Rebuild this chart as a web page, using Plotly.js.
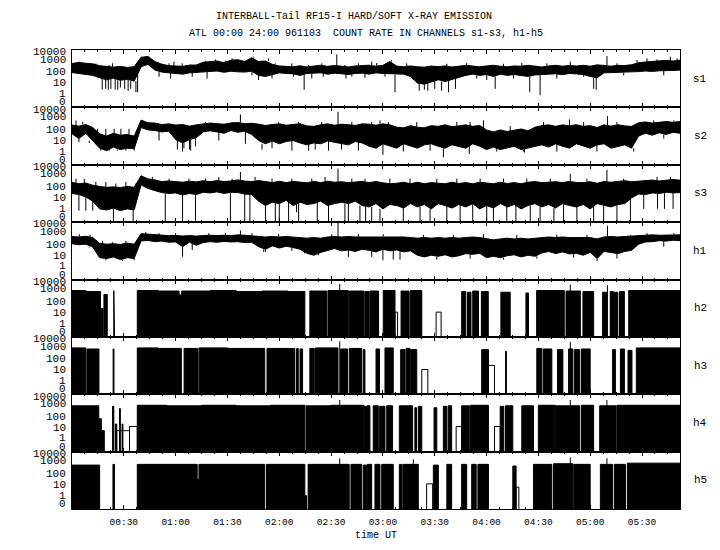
<!DOCTYPE html>
<html><head><meta charset="utf-8">
<script src="https://cdn.plot.ly/plotly-3.0.1.min.js"></script>
<style>html,body{margin:0;padding:0;background:#fff}#chart{width:720px;height:550px}</style>
</head><body><div id="chart"></div>
<script>
// time grid in minutes after 00:00 UT
const times = [0,4,8,12,16,20,24,28,32,36,40,44,48,52,56,60,64,68,72,76,80,84,88,92,96,100,104,108,112,116,120,124,128,132,136,140,144,148,152,156,160,164,168,172,176,180,184,188,192,196,200,204,208,212,216,220,224,228,232,236,240,244,248,252,256,260,264,268,272,276,280,284,288,292,296,300,304,308,312,316,320,324,328,332,336,340,344,348,352];

// count-rate envelopes (upper / lower) per channel
const s1Hi = [600,750,620,560,380,320,280,330,260,310, 2200,2600,900,520,380,360,330,420,440,780, 950,1000,700,1200,1300,900,2000,900,1000,500, 360,330,300,370,290,350,410,330,400,340, 290,360,400,420,340,410,900,350,300,360, 300,280,350,310,360,290,340,410,350,300, 360,410,340,300,360,340,410,350,290,360, 410,340,400,350,410,340,450,400,340,410, 390,460,700,820,900,1000,1150,1000,1200];
const s1Lo = [90,75,65,50,30,20,28,18,22,15, 300,500,150,100,85,80,65,85,90,100, 110,125,95,120,105,100,120,50,40,60, 85,75,70,50,75,80,85,65,80,70, 60,75,80,65,85,75,70,60,65,40, 10,8,12,20,14,22,30,50,65,50, 60,40,65,50,60,48,40,55,60,75, 70,58,75,68,60,40,30,85,90,95, 88,100,110,125,115,130,125,140,150];
// isolated excursions (time, count) above / below the band
const s1SpikeT = [17.5,19.5,21,22.5,25,26.5,28,30.5,32.5,34,37,38,134.4,153.3,185,187,201,204,206,210,214,218,222,245,265,271,302,303.5,309.7,
  4.2,8.1,11,13.8,21.5,23.5,28.3,50.4,56.2,57.1,59,63.8,68.7,69.6,77.3,78.2,83,88.8,92.7,96.5,100.4,104.2,105.2,108,110,113.8,115.8,117.7,127.3,128.2,137,138.8,144.6,145.5,158,158.6,162,165.8,169.6,173.5,
  176.4,181.2,193.8,197.6,217,228.5,234.3,240.1,249.8,255.6,260.4,274.9,280.7,288.5,296.2,315.5,319.4,327.1,332.9,338.7,342.6,346.4,350.3];
const s1SpikeV = [2.5,3,2.5,3,2.5,2.5,4,3,2,3,1.5,1.5,2.5,4000,1200,1.5,2,2.5,2,3,2,1.5,3,3,1.5,0.8,3,2.5,2800,
  870,620,500,620,440,620,350,38,620,26,870,620,500,38,1070,26,1400,1070,1740,1400,1070,50,2450,19,1070,1740,26,620,620,38,440,26,620,38,440,26,38,620,30,870,
  660,38,620,19,560,660,26,19,560,26,660,620,26,870,38,620,50,1230,1740,1400,50,2450,1740];

const s2Hi = [250,200,280,150,40,25,45,30,35,25, 700,400,380,280,320,250,280,200,260,320, 380,330,300,380,420,330,360,300,230,280, 320,240,270,330,210,190,260,320,240,300, 270,230,320,300,240,320,260,160,140,220, 160,140,220,190,260,180,210,260,190,230, 90,60,90,65,85,110,75,160,220,260, 190,260,210,270,190,220,150,260,200,270, 210,190,400,480,380,460,520,440,520];
const s2Lo = [40,15,45,10,2,1.2,2.5,1.5,2,1.8, 150,90,80,60,70,12,6,12,18,60, 75,60,45,80,55,70,35,10,5,9, 5,8,10,6,4,6,5,9,7,5, 4,8,6,3,2,5,3,2,5,3, 2,4,5,3,2,4,3,2,5,3, 1.5,2.5,1.5,2,3,1.5,2,3,4,2.5, 5,3,2,5,3,2,4,5,2,3, 4,2,25,45,30,50,35,55,45];
const s2SpikeT = [4,10,64,68,97.5,154,180,215,230,262,288,310,
  2.3,6.2,14.8,16.7,19.6,21.5,24.4,26.3,28.3,31.2,33,36,50.4,61,64.8,68.7,71.5,77.3,85,92.7,100.4,110,115.8,119.6,127.3,131.2,137,140.8,144.6,148.5,156,162,165.8,173.5,
  178.3,183.1,191.8,199.6,207.3,222.8,230.5,238.2,245.9,253.7,261.4,273,280.7,296.2,303.9,315.5,325.2,336.8,342.6,348.4];
const s2SpikeV = [7,6,1,1.5,2300,4000,0.5,0.3,0.6,0.8,800,1600,
  660,470,115,1.2,115,1.2,115,1.2,115,1.2,115,1.2,10,1.5,2,1.2,3,470,10,470,5,1.5,2,470,1.2,470,1.2,1.5,470,1.2,1.5,470,1.2,470,
  660,470,1,470,1.2,470,470,660,1,200,1,470,1,470,1,470,1,660,15,660];

const s3Hi = [260,190,220,140,110,90,100,85,110,90, 1000,520,420,300,340,290,260,320,280,360, 290,370,300,340,420,330,300,370,280,240, 320,240,310,250,230,310,240,320,260,290, 240,270,310,240,300,230,190,210,260,190, 260,190,240,210,190,260,200,240,190,260, 210,190,260,200,240,190,260,300,240,260, 290,240,310,250,240,290,210,300,260,310, 360,290,340,370,410,340,420,460,400];
const s3Lo = [25,20,12,5,1,0.8,1.2,0.7,1,0.8, 150,70,45,30,25,28,18,25,20,32, 28,35,25,32,30,22,20,5,2,4, 3,6,2,4,2.5,3,5,2,3,4, 3,5,2,1.5,3,1,2.5,2,1.2,3, 1.5,2.5,1,3,2,1.2,2.5,1.5,3,1, 2,1.2,3,1.5,2.5,1,2,3,1.5,2.5, 1.2,3,2,1.5,2.5,1,3,2,1.5,2.5, 3,10,22,20,28,25,32,28,30];
const s3SpikeT = [4,8,12,24,35.4,54,64,71.5,91.7,97.5,100,103,120,130,142,154,160,170,201.5,217,232,244,257,271,279,288.5,302,309.7,331,339,343,348,
  2.3,7.1,13.8,19.6,25.4,31.2,37,46.5,56.2,67.7,77.3,85,92.7,106,115.8,127.3,138.8,146.5,162,169.6,112,117.7,125.4,131.2,148.5,158,166.7,173.5,
  184,195.7,211.2,222.8,236.3,249.8,263.3,276.9,298.1,319.4,338.7,346.4,178.3,191.8,207.3,224.7,240.1,251.7,265.3,284.6,292.3,307.8,315.5,323.3];
const s3SpikeV = [0.7,0.7,0.7,0,0,0,0,0,0,2200,0,0,0,0.5,0,4500,0,0,0,0,0,0,0,0,0,1500,0,3500,1,1,1,1,
  550,550,275,275,200,275,200,780,550,550,550,780,550,780,550,550,550,780,550,550,0,0,0,0,0,0,0,0,
  550,550,550,550,550,550,550,550,550,550,780,780,0,0,0,0,0,0,0,0,0,0,0,0];

const h1Hi = [500,450,520,400,120,100,110,95,125,100, 900,800,700,650,600,620,550,600,540,600, 650,600,650,600,700,650,600,500,450,500, 450,500,450,400,350,400,350,450,500,450, 500,450,450,500,450,500,450,500,450,400, 350,400,350,400,350,400,350,400,450,400, 300,250,300,350,300,350,300,350,400,450, 400,450,400,400,350,400,300,450,500,450, 500,550,600,650,700,650,700,750,700];
const h1Lo = [110,90,100,55,6,5,7,4,6,5, 200,220,170,190,150,160,60,150,80,140, 170,150,180,160,170,140,150,60,35,70, 45,65,50,35,15,10,18,28,40,25, 30,22,35,28,20,35,25,30,20,25, 10,7,10,8,11,7,9,14,12,15, 6,8,6,9,11,7,10,8,16,22, 14,20,13,15,10,18,5,22,18,14, 22,28,100,160,170,210,190,230,210];
const h1SpikeT = [10,64,111,154,180,186,304,310,
  4.2,10.5,17.7,23.5,31.2,19.6,29.2,36,42.7,50.4,60,69.6,79.2,88.8,97.5,104.2,112,119.6,127.3,134.6,142.7,150.4,160,165.8,173.5,
  180.2,189.9,203.4,211.2,220.8,230.5,238.2,249.8,257.5,269.1,280.7,290.4,298.1,315.5,323.3,332.9,342.6,348.4];
const h1SpikeV = [50,7,20,9000,3.5,4,3,4700,
  810,700,200,150,200,3.5,3,3.5,1300,1000,1000,30,1000,1000,1750,1000,20,810,25,15,10,810,7,810,7,
  810,4,700,4,700,5,810,4,700,5,700,6,700,5,700,1000,60,1000];

// hard channels: [start min, end min, count level] of active stretches, and open step outlines
const h2On = [[0,8,1000],[8,16.5,800],[17,18,23],[18.5,20.4,440],[24.2,24.6,1000],
 [37.8,50,1000],[50,62,900],[62,63.5,400],[63.5,80,900],[80,95,1000],[95,110,800],[110,125,900],[125,134.8,800],
 [137.7,147.5,900],[148.2,160,1000],[160.7,169,900],[169.5,172,800],[172.5,177.5,900],
 [180.2,187,1000],[190.5,195.2,900],[195.9,202.5,1000],
 [225.6,228,800],[229,231,700],[232,235.3,900],[237,241,800],
 [248.3,253.7,700],[262.8,264.3,600],[269,285,1000],[286,294.3,900],[295.8,302,800],
 [307.2,309.7,700],[311.6,313.5,800],[314,316,700],[317,319.8,800],[322.3,352,1000]];
const h2Out = [[187,188.5,11],[210.8,213.7,11]];
const h2SpikeT = [155,288.5,310];
const h2SpikeV = [4000,3500,3000];

const h3On = [[0,7.9,1000],[8.6,15.6,800],[23.8,24.3,800],
 [37.8,50,1000],[50,63.3,900],[64.9,73,900],[73.6,90,1000],[90,111.6,900],[112.9,128,900],
 [128.3,129,900],[130,131,900],[132,133.5,800],
 [137.7,140.3,900],[141,154,1000],[155.5,159.5,800],[160.5,167.7,900],[168.6,169.6,700],
 [176,178,800],[181.2,186,1000],[190.3,192.8,700],[193.4,195.7,900],[196.1,199.6,700],
 [237.2,241.1,700],[251,251.5,500],[269.1,272,900],[272.8,277.8,800],[281.1,284.2,700],
 [287.5,290,800],[291,294,700],[295,300,800],[313,314.6,700],[317.5,319.8,800],[321.9,324.2,600],[326.7,352,1000]];
const h3Out = [[202.5,206,11],[241.1,244.6,26]];
const h3SpikeT = [155,288.5];
const h3SpikeV = [4000,3500];

const h4On = [[0,15.5,900],[15.5,17,60],[17,18.7,5],[23.5,24.2,800],[25.1,25.9,20],[27.5,28,500],[29,29.5,20],
 [37.8,55,1000],[55,75,900],[75,95,1000],[95,115,900],[115,134.8,1000],[135.5,150,900],[150,169,1000],
 [169.3,170.5,800],[170.8,172.5,900],[174.4,177.3,900],[177.9,181.2,800],[182.2,185.6,900],
 [189.5,197.2,900],[198.5,199.5,600],[200.5,202.5,800],[209.6,211.2,600],[215,217,800],[217.8,219.8,900],
 [225.6,230,900],[230.5,241.1,1000],[247.9,250,800],[251,255.2,900],[260.4,267.2,900],
 [270,280,1000],[280.5,294,900],[295,302,1000],[305.5,315,900],[315.5,352,1000]];
const h4Out = [[25.9,33.3,5],[33.3,37.8,12],[222.4,225.6,12],[244.6,247.9,12]];
const h4SpikeT = [155,288.5,309.7];
const h4SpikeV = [3000,3000,3000];

const h5On = [[0,16,600],[23.7,24.6,700],[37.8,72.5,700],[72.5,73.5,30],[73.5,111.6,700],[112.6,134.8,700],[134.8,135.8,1],
 [136.7,160.5,700],[161.5,167.7,700],[168.6,170.6,600],[171,173.5,700],[175.4,178.3,700],[179.3,186,700],
 [189.5,190.8,700],[191.5,200.5,700],[209.2,212.1,600],[217,219.8,700],[225.6,228.5,700],[231.4,234,700],[235,241.1,700],
 [255.2,257.1,500],[267.2,277.8,700],[278.8,290,800],[290.5,300,700],[305.9,313,700],[314,320.4,700],[321.5,352,900]];
const h5Out = [[205.3,208.8,12],[257.1,258.7,6]];
const h5SpikeT = [155,197.6,288.5,309.7];
const h5SpikeV = [2500,2000,3000,2500];

const channels = ['s1','s2','s3','h1','h2','h3','h4','h5'];
const xTickMin = [30,60,90,120,150,180,210,240,270,300,330];
const xTickLab = ['00:30','01:00','01:30','02:00','02:30','03:00','03:30','04:00','04:30','05:00','05:30'];
const yLabPos = [3.79,3.12,1.97,0.97,0,-0.75];
const yLabTxt = ['10000','1000','100','10','1','0'];

const BOTTOM = -1.2, TOP = 4;
function lg(v){ return v > 0 ? Math.max(Math.log10(v), BOTTOM) : BOTTOM; }

const bandPanels = [
 {hi:s1Hi, lo:s1Lo, st:s1SpikeT, sv:s1SpikeV},
 {hi:s2Hi, lo:s2Lo, st:s2SpikeT, sv:s2SpikeV},
 {hi:s3Hi, lo:s3Lo, st:s3SpikeT, sv:s3SpikeV},
 {hi:h1Hi, lo:h1Lo, st:h1SpikeT, sv:h1SpikeV}];
const stepPanels = [
 {on:h2On, out:h2Out, st:h2SpikeT, sv:h2SpikeV},
 {on:h3On, out:h3Out, st:h3SpikeT, sv:h3SpikeV},
 {on:h4On, out:h4Out, st:h4SpikeT, sv:h4SpikeV},
 {on:h5On, out:h5Out, st:h5SpikeT, sv:h5SpikeV}];

const K = i => (i===1 ? '' : String(i));
const data = [];
const base = {mode:'lines', line:{color:'#000', width:1}, hoverinfo:'skip', showlegend:false};

bandPanels.forEach((p, j) => {
  const k = j+1, xa = 'x'+K(k), ya = 'y'+K(k);
  data.push(Object.assign({}, base, {x:times, y:p.lo.map(lg), xaxis:xa, yaxis:ya}));
  data.push(Object.assign({}, base, {x:times, y:p.hi.map(lg), xaxis:xa, yaxis:ya, fill:'tonexty', fillcolor:'#000'}));
  const sx = [], sy = [];
  p.st.forEach((t, i) => {
    const idx = Math.min(times.length-1, Math.round(t/4));
    const v = p.sv[i];
    const from = v < p.lo[idx] ? p.lo[idx] : p.hi[idx];
    sx.push(t, t, null); sy.push(lg(from), lg(v), null);
  });
  data.push(Object.assign({}, base, {x:sx, y:sy, xaxis:xa, yaxis:ya}));
});

stepPanels.forEach((p, j) => {
  const k = j+5, xa = 'x'+K(k), ya = 'y'+K(k);
  const fx = [], fy = [];
  p.on.forEach(r => { fx.push(r[0], r[0], r[1], r[1], null); fy.push(BOTTOM, lg(r[2]), lg(r[2]), BOTTOM, null); });
  data.push(Object.assign({}, base, {x:fx, y:fy, xaxis:xa, yaxis:ya, fill:'toself', fillcolor:'#000'}));
  const ox = [], oy = [];
  p.out.forEach(r => { ox.push(r[0], r[0], r[1], r[1], null); oy.push(BOTTOM, lg(r[2]), lg(r[2]), BOTTOM, null); });
  p.st.forEach((t, i) => { ox.push(t, t, null); oy.push(BOTTOM, lg(p.sv[i]), null); });
  data.push(Object.assign({}, base, {x:ox, y:oy, xaxis:xa, yaxis:ya}));
});

const minorY = [];
for (let d = -1; d <= 3; d++) for (let m = 2; m <= 9; m++) { const v = d + Math.log10(m); if (v > BOTTOM) minorY.push(v); }

const FONT = 'Liberation Mono, DejaVu Sans Mono, monospace';
const layout = {
  width:720, height:550,
  margin:{l:72, r:40, t:50, b:41},
  paper_bgcolor:'#fff', plot_bgcolor:'#fff', showlegend:false,
  title:{text:'INTERBALL-Tail RF15-I HARD/SOFT X-RAY EMISSION', font:{family:FONT, size:10, color:'#000'},
         xref:'container', yref:'container', x:354/720, y:1-15/550, xanchor:'center', yanchor:'middle'},
  annotations:[
    {text:'ATL 00:00 24:00 961103\u00a0\u00a0COUNT RATE IN CHANNELS s1-s3, h1-h5', xref:'paper', yref:'paper',
     x:(366-72)/608, y:(550-41-34)/459, xanchor:'center', yanchor:'middle', showarrow:false,
     font:{family:FONT, size:10, color:'#000'}}
  ]
};

for (let k = 1; k <= 8; k++) {
  const xa = {
    domain:[0,1], anchor:'y'+K(k), range:[0,352], tickmode:'array', tickvals:xTickMin, ticktext:xTickLab,
    showticklabels:k===8, ticks:'inside', ticklen:4, tickwidth:1, tickcolor:'#000', mirror:'allticks',
    showline:true, linecolor:'#000', linewidth:1, showgrid:false, zeroline:false, fixedrange:true,
    ticklabelstandoff:4,
    minor:{tickmode:'linear', tick0:0, dtick:7.5, ticks:'inside', ticklen:2, tickcolor:'#000', showgrid:false},
    tickfont:{family:FONT, size:9.5, color:'#000'}
  };
  if (k > 1) xa.matches = 'x';
  if (k === 8) xa.title = {text:'time UT', font:{family:FONT, size:10, color:'#000'}, standoff:3};
  layout['xaxis'+K(k)] = xa;
  layout['yaxis'+K(k)] = {
    domain:[1-k/8, 1-(k-1)/8], anchor:'x'+K(k), range:[BOTTOM, TOP], showticklabels:false,
    ticks:'', showline:true, mirror:true, linecolor:'#000', linewidth:1, showgrid:false, zeroline:false, fixedrange:true
  };
  layout['yaxis'+(k+8)] = {
    overlaying:'y'+K(k), anchor:'x'+K(k), range:[BOTTOM, TOP], tickmode:'array', tickvals:[0,1,2,3,4],
    showticklabels:false, ticks:'inside', ticklen:6, tickcolor:'#000', mirror:'allticks', showline:false,
    showgrid:false, zeroline:false, fixedrange:true,
    minor:{tickmode:'array', tickvals:minorY, ticks:'inside', ticklen:3, tickcolor:'#000', showgrid:false}
  };
  yLabPos.forEach((pos, i) => {
    layout.annotations.push({text:yLabTxt[i], xref:'paper', yref:'y'+K(k), x:-4/608, y:pos,
      xanchor:'right', yanchor:'middle', showarrow:false, font:{family:FONT, size:11, color:'#000'}});
  });
  layout.annotations.push({text:channels[k-1], xref:'paper', yref:'paper', x:(700-72)/608, y:1-(k-0.5)/8,
    xanchor:'center', yanchor:'middle', showarrow:false, font:{family:FONT, size:11, color:'#000'}});
}

Plotly.newPlot('chart', data, layout, {staticPlot:true, displayModeBar:false});
</script>
</body></html>
